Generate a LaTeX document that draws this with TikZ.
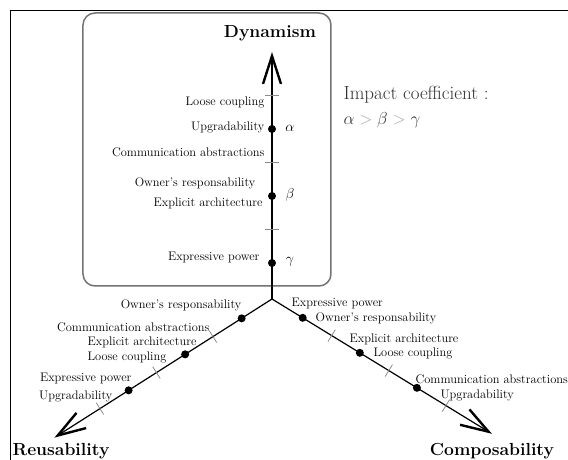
\documentclass[tikz,border=0pt]{standalone}
\usepackage{amsmath}
\usetikzlibrary{arrows.meta, calc}
\tikzset{
  lbl/.style={font=\fontsize{12.4}{14}\selectfont, inner sep=0pt},
  axtitle/.style={font=\fontsize{17.5}{20}\selectfont\bfseries, inner sep=0pt},
  grk/.style={font=\fontsize{15}{18}\selectfont, inner sep=0pt},
  axdot/.style={circle, fill, inner sep=0pt, minimum size=8pt},
  axtick/.style={black!45, line width=0.8pt},
}

\begin{document}
\begin{tikzpicture}[x=1pt, y=1pt, line width=1.2pt,
    >={Straight Barb[length=28pt, width=18pt, line width=2.4pt]}]
  \useasboundingbox (-272,-161) rectangle (296,299);
  \draw[line width=1pt] (-261,-161) |- (296,288);
  \draw[black!55, line width=1.5pt, rounded corners=12pt] (-189,13) rectangle (59,286);
  % axes
  \coordinate (O) at (0,0);
  \coordinate (tipV) at (0,247);
  \coordinate (tipL) at (212.5:258);
  \coordinate (tipR) at (-31.5:258);
  \draw[->] (O) -- (tipV);
  \draw[->] (O) -- (tipL);
  \draw[->] (O) -- (tipR);
  \foreach \ax/\ang in {v/90, l/212.5, r/-31.5} {
    \foreach \d [count=\i] in {36,103,170} {\node[axdot] (\ax\i) at (\ang:\d) {};}
    \foreach \d in {70,137,204} {\draw[axtick] (\ang:\d) ++(\ang+90:7) -- ++(\ang-90:14);}
  }
  \node[axtitle] (dyn) at (-2,266) {Dynamism};
  \node[axtitle, anchor=base] (reuse) at (-211,-157) {Reusability};
  \node[axtitle, anchor=base] (compo) at (220,-157) {Composability};
  % dynamism labels
  \node[lbl, anchor=east] (vLoose) at (-7,197) {Loose coupling};
  \node[lbl, anchor=east] (vUpgr) at (-7,172) {Upgradability};
  \node[lbl, anchor=east] (vComm) at (-7,147) {Communication abstractions};
  \node[lbl, anchor=east] (vOwner) at (-16,116) {Owner's responsability};
  \node[lbl, anchor=east] (vExpl) at (-9,96) {Explicit architecture};
  \node[lbl, anchor=east] (vExpr) at (-12,42) {Expressive power};
  \node[grk] (alpha) at (18,171) {$\alpha$};
  \node[grk] (beta) at (18,104) {$\beta$};
  \node[grk] (gamma) at (18,37) {$\gamma$};
  % reusability labels
  \node[lbl, anchor=east] (lOwner) at (-30,-6) {Owner's responsability};
  \node[lbl, anchor=east] (lComm) at (-62,-28) {Communication abstractions};
  \node[lbl, anchor=east] (lExpl) at (-75,-43) {Explicit architecture};
  \node[lbl, anchor=east] (lLoose) at (-105,-58) {Loose coupling};
  \node[lbl, anchor=east] (lExpr) at (-140,-79) {Expressive power};
  \node[lbl, anchor=east] (lUpgr) at (-159,-97) {Upgradability};
  % composability labels
  \node[lbl, anchor=west] (rExpr) at (19,-4) {Expressive power};
  \node[lbl, anchor=west] (rOwner) at (43,-19) {Owner's responsability};
  \node[lbl, anchor=west] (rExpl) at (77,-40) {Explicit architecture};
  \node[lbl, anchor=west] (rLoose) at (101,-54) {Loose coupling};
  \node[lbl, anchor=west] (rComm) at (143,-80) {Communication abstractions};
  \node[lbl, anchor=west] (rUpgr) at (168,-96) {Upgradability};
  % legend
  \node[anchor=west, inner sep=0pt, text=black!80, font=\fontsize{19}{22}\selectfont] (impact) at (71,204) {Impact coefficient :};
  \node[anchor=west, inner sep=0pt, text=black!80, font=\fontsize{18}{22}\selectfont] (order) at (71,179)
    {$\alpha \mathrel{\color{black!35}>} \beta \mathrel{\color{black!35}>} \gamma$};
\end{tikzpicture}
\end{document}
